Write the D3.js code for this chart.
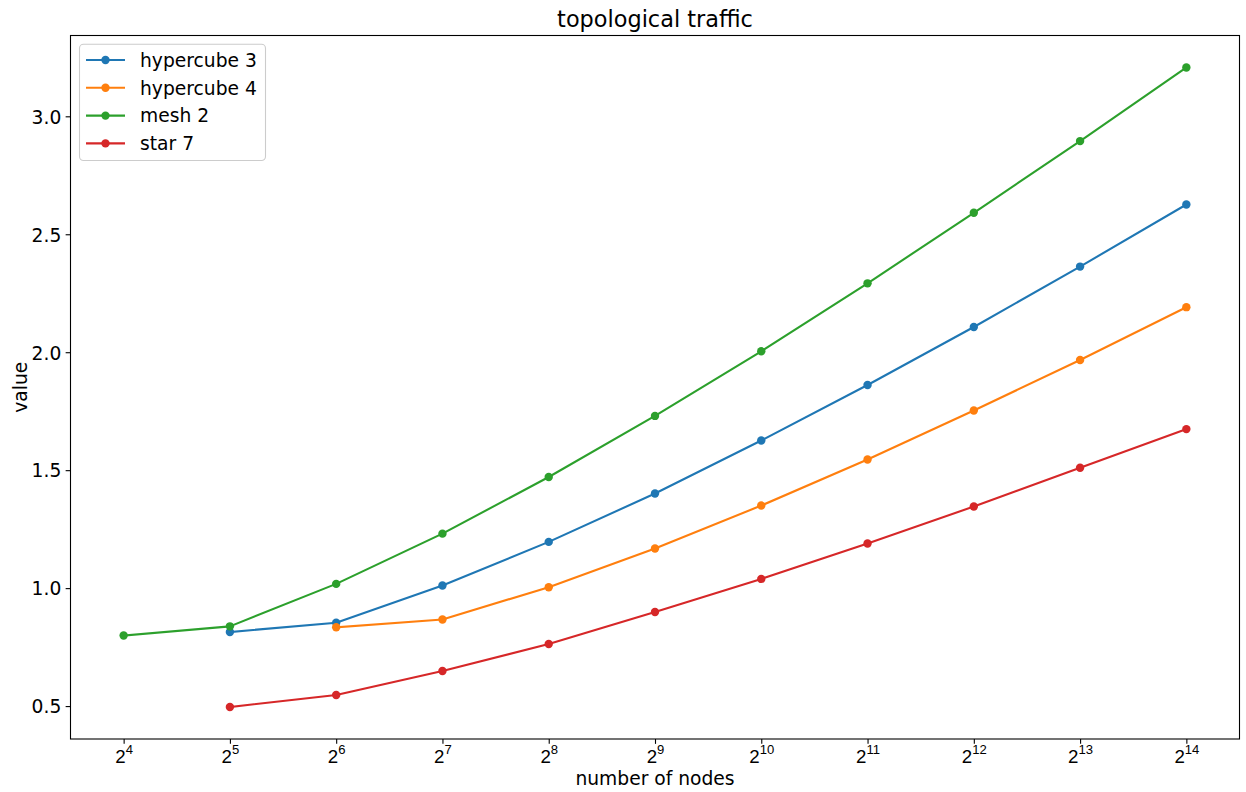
<!DOCTYPE html>
<html>
<head>
<meta charset="utf-8">
<script src="https://cdn.jsdelivr.net/npm/d3@7"></script>
<style>
  html, body { margin: 0; padding: 0; background: #fff; }
  svg { display: block; font-family: "DejaVu Sans", sans-serif; }
</style>
</head>
<body>
<svg id="chart" width="1246" height="792"></svg>
<script>
// ---- data ----
const exponents = [4, 5, 6, 7, 8, 9, 10, 11, 12, 13, 14];
const nodes = exponents.map(e => Math.pow(2, e));
const seriesNames = ["hypercube 3", "hypercube 4", "mesh 2", "star 7"];
const seriesColors = ["#1f77b4", "#ff7f0e", "#2ca02c", "#d62728"];
const hypercube3X = [32, 64, 128, 256, 512, 1024, 2048, 4096, 8192, 16384];
const hypercube3 = [0.814, 0.853, 1.011, 1.196, 1.401, 1.626, 1.861, 2.107, 2.363, 2.626];
const hypercube4X = [64, 128, 256, 512, 1024, 2048, 4096, 8192, 16384];
const hypercube4 = [0.834, 0.867, 1.004, 1.168, 1.350, 1.545, 1.753, 1.967, 2.191];
const mesh2X = [16, 32, 64, 128, 256, 512, 1024, 2048, 4096, 8192, 16384];
const mesh2 = [0.799, 0.838, 1.018, 1.231, 1.471, 1.730, 2.004, 2.292, 2.591, 2.895, 3.207];
const star7X = [32, 64, 128, 256, 512, 1024, 2048, 4096, 8192, 16384];
const star7 = [0.496, 0.547, 0.649, 0.763, 0.899, 1.039, 1.189, 1.346, 1.510, 1.674];
const yTicks = [0.5, 1.0, 1.5, 2.0, 2.5, 3.0];
const titleText = "topological traffic";
const xLabel = "number of nodes";
const yLabel = "value";

const series = [
  { name: seriesNames[0], color: seriesColors[0], x: hypercube3X, y: hypercube3 },
  { name: seriesNames[1], color: seriesColors[1], x: hypercube4X, y: hypercube4 },
  { name: seriesNames[2], color: seriesColors[2], x: mesh2X, y: mesh2 },
  { name: seriesNames[3], color: seriesColors[3], x: star7X, y: star7 }
];

// ---- layout ----
const L = 70.5, R = 1239.5, T = 35.5, B = 739;
const FS = 18.7;

const svg = d3.select("#chart");

// matplotlib-like 5% margins
const lx = d3.extent(nodes).map(v => Math.log2(v));
const padX = (lx[1] - lx[0]) * 0.05;
const x = d3.scaleLog().base(2)
  .domain([Math.pow(2, lx[0] - padX), Math.pow(2, lx[1] + padX)])
  .range([L, R]);
const allY = series.flatMap(s => s.y);
const ye = d3.extent(allY);
const padY = (ye[1] - ye[0]) * 0.05;
const y = d3.scaleLinear().domain([ye[0] - padY, ye[1] + padY]).range([B, T]);

// ---- series ----
const line = d3.line().x(d => x(d[0])).y(d => y(d[1]));
series.forEach(s => {
  const pts = s.x.map((v, i) => [v, s.y[i]]);
  const g = svg.append("g");
  g.append("path").datum(pts)
    .attr("d", line)
    .attr("fill", "none")
    .attr("stroke", s.color)
    .attr("stroke-width", 2.08)
    .attr("stroke-linejoin", "round")
    .attr("stroke-linecap", "square");
  g.selectAll("circle").data(pts).join("circle")
    .attr("cx", d => x(d[0]))
    .attr("cy", d => y(d[1]))
    .attr("r", 4.2)
    .attr("fill", s.color);
});

// ---- axes ----
const xAxis = d3.axisBottom(x).tickValues(nodes).tickSize(4.86).tickPadding(4.86).tickFormat("");
const gx = svg.append("g").attr("transform", `translate(0,${B})`).call(xAxis);
gx.select(".domain").remove();
gx.selectAll(".tick line").attr("stroke", "#000").attr("stroke-width", 1.1);
gx.selectAll(".tick").each(function(d, i) {
  const t = d3.select(this).append("text")
    .attr("fill", "#000")
    .attr("font-size", FS)
    .attr("text-anchor", "middle")
    .attr("y", 23.7)
    .attr("x", 0);
  t.append("tspan").text("2");
  t.append("tspan").attr("font-size", FS * 0.7).attr("dy", -8.4).text(exponents[i]);
});

const yAxis = d3.axisLeft(y).tickValues(yTicks).tickSize(4.86).tickPadding(4.86).tickFormat(d3.format(".1f"));
const gy = svg.append("g").attr("transform", `translate(${L},0)`).call(yAxis);
gy.select(".domain").remove();
gy.selectAll(".tick line").attr("stroke", "#000").attr("stroke-width", 1.1);
gy.selectAll(".tick text")
  .attr("fill", "#000")
  .attr("font-size", FS)
  .attr("font-family", "DejaVu Sans")
  .attr("dy", null)
  .attr("y", 6.8)
  .attr("x", -9.2);

// frame
svg.append("rect")
  .attr("x", L).attr("y", T)
  .attr("width", R - L).attr("height", B - T)
  .attr("fill", "none")
  .attr("stroke", "#000")
  .attr("stroke-width", 1.1);

// ---- labels ----
svg.append("text")
  .attr("x", (L + R) / 2).attr("y", 27)
  .attr("text-anchor", "middle")
  .attr("font-size", 22.4)
  .attr("fill", "#000")
  .text(titleText);
svg.append("text")
  .attr("x", (L + R) / 2).attr("y", 785)
  .attr("text-anchor", "middle")
  .attr("font-size", FS)
  .attr("fill", "#000")
  .text(xLabel);
svg.append("text")
  .attr("transform", `translate(26.8,${(T + B) / 2}) rotate(-90)`)
  .attr("text-anchor", "middle")
  .attr("font-size", FS)
  .attr("fill", "#000")
  .text(yLabel);

// ---- legend ----
const lg = svg.append("g");
lg.append("rect")
  .attr("x", 79.5).attr("y", 44.3)
  .attr("width", 186).attr("height", 116.2)
  .attr("rx", 4).attr("ry", 4)
  .attr("fill", "#fff").attr("fill-opacity", 0.8)
  .attr("stroke", "#cccccc").attr("stroke-width", 1.1);
series.forEach((s, i) => {
  const cy = 60 + i * 27.8;
  lg.append("line")
    .attr("x1", 86).attr("x2", 125)
    .attr("y1", cy).attr("y2", cy)
    .attr("stroke", s.color).attr("stroke-width", 2.08);
  lg.append("circle").attr("cx", 105.5).attr("cy", cy).attr("r", 4.2).attr("fill", s.color);
  lg.append("text")
    .attr("x", 140).attr("y", cy + 6.8)
    .attr("font-size", FS)
    .attr("fill", "#000")
    .text(s.name);
});
</script>
</body>
</html>
